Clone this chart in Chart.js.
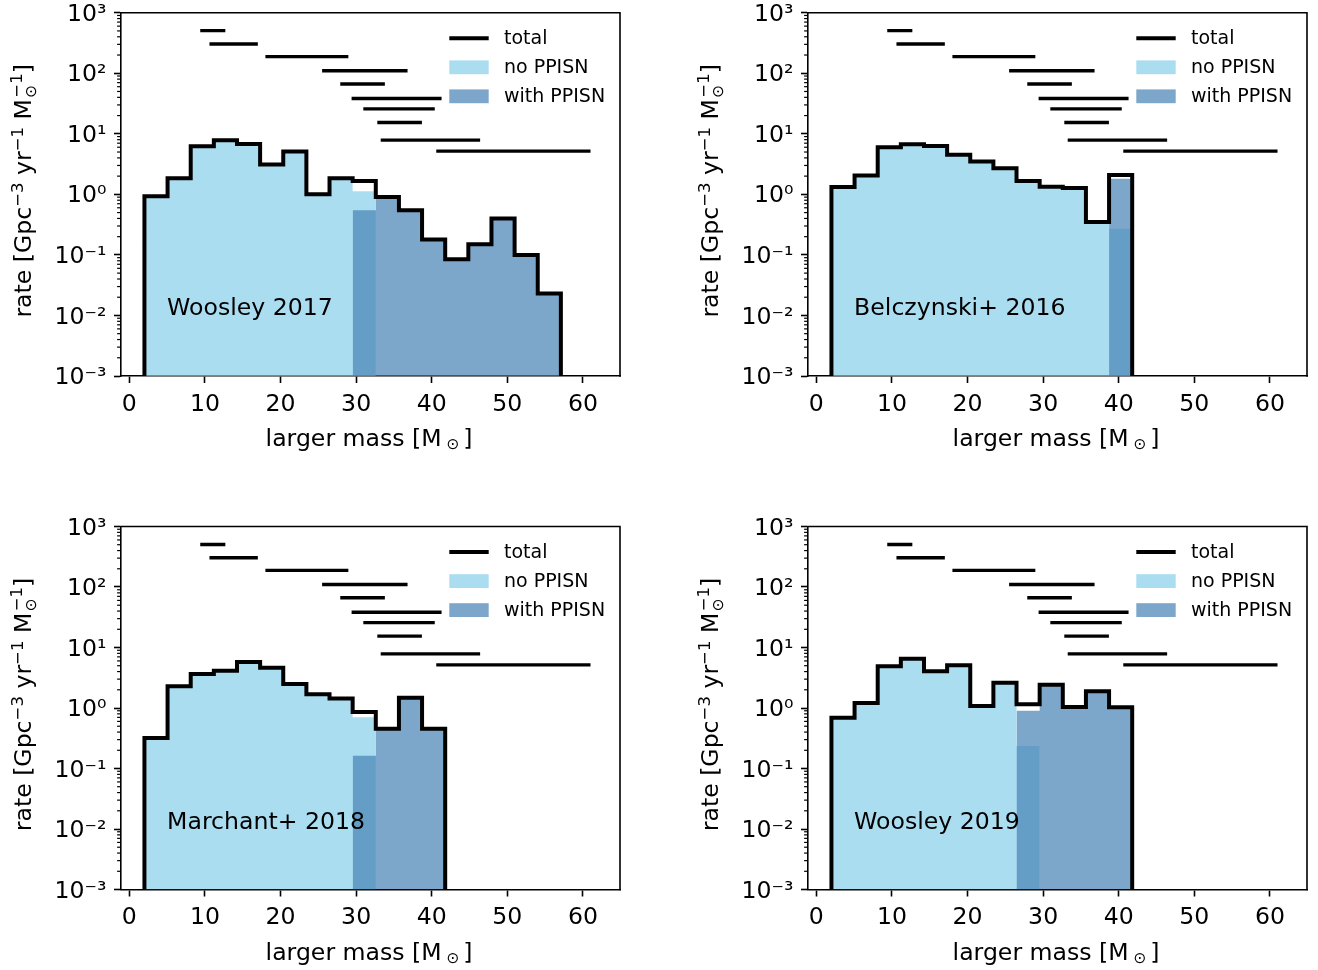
<!DOCTYPE html>
<html>
<head>
<meta charset="utf-8">
<script src="https://cdn.jsdelivr.net/npm/chart.js@4.4.1/dist/chart.umd.min.js"></script>
<style>
  html, body { margin: 0; padding: 0; background: #fff; overflow: hidden; }
  #fig { position: relative; width: 1318px; height: 970px; overflow: hidden; }
  #fig canvas { position: absolute; }
</style>
</head>
<body>
<div id="fig">
  <canvas id="p1" width="630" height="460" style="left:0px;top:0px"></canvas>
  <canvas id="p2" width="630" height="460" style="left:687px;top:0px"></canvas>
  <canvas id="p3" width="630" height="460" style="left:0px;top:514px"></canvas>
  <canvas id="p4" width="630" height="460" style="left:687px;top:514px"></canvas>
</div>
<script>
// bin edges (larger mass, M_sun), shared by every model
const binEdges = [2.00, 5.06, 8.12, 11.18, 14.24, 17.30, 20.36, 23.42, 26.48, 29.54,
                  32.60, 35.66, 38.72, 41.78, 44.84, 47.90, 50.96, 54.02, 57.08];

// Woosley 2017
const w17Total = [0.93, 1.85, 6.2, 7.8, 6.8, 3.1, 5.1, 1.0, 1.85, 1.66, 0.9, 0.545, 0.18, 0.085, 0.15, 0.40, 0.10, 0.023];
const w17No    = [0.93, 1.85, 6.2, 7.8, 6.8, 3.1, 5.1, 1.0, 1.85, 1.12, 0, 0, 0, 0, 0, 0, 0, 0];
const w17With  = [0, 0, 0, 0, 0, 0, 0, 0, 0, 0.545, 0.9, 0.545, 0.18, 0.085, 0.15, 0.40, 0.10, 0.023];

// Belczynski+ 2016
const b16Total = [1.32, 2.05, 6.0, 6.7, 6.3, 4.5, 3.5, 2.7, 1.66, 1.34, 1.27, 0.35, 2.08];
const b16No    = [1.32, 2.05, 6.0, 6.7, 6.3, 4.5, 3.5, 2.7, 1.66, 1.34, 1.27, 0.35, 0.27];
const b16With  = [0, 0, 0, 0, 0, 0, 0, 0, 0, 0, 0, 0, 1.81];

// Marchant+ 2018
const m18Total = [0.32, 2.28, 3.65, 4.14, 5.75, 4.64, 2.49, 1.68, 1.43, 0.86, 0.455, 1.48, 0.455];
const m18No    = [0.32, 2.28, 3.65, 4.14, 5.75, 4.64, 2.49, 1.68, 1.43, 0.70, 0, 0, 0];
const m18With  = [0, 0, 0, 0, 0, 0, 0, 0, 0, 0.163, 0.455, 1.48, 0.455];

// Woosley 2019
const w19Total = [0.69, 1.21, 4.9, 6.5, 4.04, 5.1, 1.08, 2.62, 1.15, 2.43, 1.04, 1.89, 1.03];
const w19No    = [0.69, 1.21, 4.9, 6.5, 4.04, 5.1, 1.08, 2.62, 0.235, 0, 0, 0, 0];
const w19With  = [0, 0, 0, 0, 0, 0, 0, 0, 0.90, 2.43, 1.04, 1.89, 1.03];

// observed events: 90% range of the larger mass, drawn at a fixed height each
const eventLo = [9.38, 10.6, 18.0, 25.5, 27.9, 29.4, 30.95, 32.8, 33.25, 40.6];
const eventHi = [12.7, 17.0, 28.97, 36.8, 33.8, 41.3, 40.4, 38.7, 46.4, 61.0];
const eventY  = [505, 304, 188, 110, 66.6, 38.2, 25.8, 15.4, 7.85, 5.17];

const xTicks = [0, 10, 20, 30, 40, 50, 60];
const yTicks = [1e-3, 1e-2, 1e-1, 1, 10, 100, 1000];
const yTickLabels = ['10⁻³', '10⁻²', '10⁻¹', '10⁰', '10¹', '10²', '10³'];
const legendLabels = ['total', 'no PPISN', 'with PPISN'];

const colNo = 'rgba(135, 206, 235, 0.7)';
const colWith = 'rgba(70, 130, 180, 0.7)';
const FONT = '"DejaVu Sans"';
const BIG = 23.6;    // ticks, axis labels, model name
const SMALL = 19.0;  // legend

const panels = [
  {id: 'p1', name: 'Woosley 2017', total: w17Total, no: w17No, with: w17With, top: 12.7, xh: 84},
  {id: 'p2', name: 'Belczynski+ 2016', total: b16Total, no: b16No, with: b16With, top: 12.7, xh: 84},
  {id: 'p3', name: 'Marchant+ 2018', total: m18Total, no: m18No, with: m18With, top: 12.5, xh: 84.5},
  {id: 'p4', name: 'Woosley 2019', total: w19Total, no: w19No, with: w19With, top: 12.5, xh: 84.5}
];

// step points for the non-empty bins of a histogram
function steps(values) {
  const pts = [];
  let last = -1;
  values.forEach((v, i) => {
    if (v > 0) { pts.push({x: binEdges[i], y: v}); last = i; }
  });
  pts.push({x: binEdges[last + 1], y: values[last]});
  return pts;
}

// step outline that drops to the axis floor on both ends
function outline(values) {
  const pts = steps(values);
  pts.unshift({x: pts[0].x, y: 1e-3});
  pts.push({x: pts[pts.length - 1].x, y: 1e-3});
  return pts;
}

// text with super/subscripts, centred along its baseline
function richText(ctx, parts, px, py, size, vertical) {
  ctx.save();
  ctx.translate(px, py);
  if (vertical) ctx.rotate(-Math.PI / 2);
  ctx.fillStyle = '#000';
  ctx.textAlign = 'left';
  ctx.textBaseline = 'alphabetic';
  const advs = parts.map(p => {
    ctx.font = `${size * (p.s || 1)}px ${FONT}`;
    const w = p.adv !== undefined ? p.adv * size : ctx.measureText(p.t).width;
    return (p.gap || 0) * size + w + (p.after || 0) * size;
  });
  let pos = -advs.reduce((a, b) => a + b, 0) / 2;
  parts.forEach((p, i) => {
    ctx.font = `${size * (p.s || 1)}px ${FONT}`;
    ctx.fillText(p.t, pos + (p.gap || 0) * size, (p.dy || 0) * size);
    pos += advs[i];
  });
  ctx.restore();
}

const yTitle = [
  {t: 'rate [Gpc'}, {t: '−3', s: 0.7, dy: -0.33}, {t: ' yr'}, {t: '−1', s: 0.7, dy: -0.33},
  {t: ' M'}, {t: '⊙', s: 0.66, dy: 0.2, adv: 0, gap: 0.06}, {t: '−1', s: 0.7, dy: -0.36}, {t: ']'}
];
const xTitle = [
  {t: 'larger mass [M'}, {t: '⊙', s: 0.66, dy: 0.13, gap: 0.2, after: 0.16}, {t: ']'}
];

// scales keep their fixed size, without room for overhanging labels
function fixScale(s, size) {
  if (s.isHorizontal()) s.height = size; else s.width = size;
  s.paddingTop = 0;
  s.paddingBottom = 0;
  s.paddingLeft = 0;
  s.paddingRight = 0;
}

function decorFor(panel) {
  return {
    id: 'decor',
    afterDraw(chart) {
      const {ctx, chartArea: a, scales: {x, y}} = chart;
      ctx.save();
      // top and right spines
      ctx.strokeStyle = '#000';
      ctx.lineWidth = 1.6;
      ctx.lineCap = 'square';
      ctx.beginPath();
      ctx.moveTo(a.left, a.top);
      ctx.lineTo(a.right, a.top);
      ctx.lineTo(a.right, a.bottom);
      ctx.stroke();
      // minor ticks of the log axis
      ctx.lineWidth = 1.2;
      ctx.lineCap = 'butt';
      for (let k = -3; k < 3; k++) {
        for (let m = 2; m < 10; m++) {
          const py = y.getPixelForValue(m * Math.pow(10, k));
          ctx.beginPath();
          ctx.moveTo(a.left, py);
          ctx.lineTo(a.left - 3.9, py);
          ctx.stroke();
        }
      }
      // legend
      const hx0 = a.right - 170.7, hw = 39.4, tx = a.right - 116;
      const rows = [25.6, 54.6, 83.6].map(d => a.top + d);
      ctx.lineWidth = 4;
      ctx.beginPath();
      ctx.moveTo(hx0, rows[0]);
      ctx.lineTo(hx0 + hw, rows[0]);
      ctx.stroke();
      ctx.fillStyle = colNo;
      ctx.fillRect(hx0, rows[1] - 6.9, hw, 13.8);
      ctx.fillStyle = colWith;
      ctx.fillRect(hx0, rows[2] - 6.9, hw, 13.8);
      ctx.fillStyle = '#000';
      ctx.font = `${SMALL}px ${FONT}`;
      ctx.textBaseline = 'middle';
      ctx.textAlign = 'left';
      legendLabels.forEach((lab, i) => ctx.fillText(lab, tx, rows[i] + 0.5));
      // model name
      ctx.font = `${BIG}px ${FONT}`;
      ctx.textBaseline = 'alphabetic';
      ctx.fillText(panel.name, x.getPixelForValue(5), y.getPixelForValue(0.01));
      ctx.restore();
      // axis titles
      richText(ctx, xTitle, (a.left + a.right) / 2 - 1.5, a.bottom + 70.2, BIG, false);
      richText(ctx, yTitle, a.left - 90.1, (a.top + a.bottom) / 2 - 3.5, BIG, true);
    }
  };
}

function makePanel(panel) {
  const datasets = [];
  datasets.push({
    label: 'total', data: outline(panel.total), stepped: true,
    borderColor: '#000', borderWidth: 4, fill: false, order: 0
  });
  eventLo.forEach((lo, i) => {
    datasets.push({
      label: 'event ' + i, data: [{x: lo, y: eventY[i]}, {x: eventHi[i], y: eventY[i]}],
      borderColor: '#000', borderWidth: 3.4, borderCapStyle: 'butt', fill: false, order: 0
    });
  });
  datasets.push({
    label: 'with PPISN', data: steps(panel.with), stepped: true,
    borderColor: 'transparent', borderWidth: 0, backgroundColor: colWith, fill: 'start', order: 1
  });
  datasets.push({
    label: 'no PPISN', data: steps(panel.no), stepped: true,
    borderColor: 'transparent', borderWidth: 0, backgroundColor: colNo, fill: 'start', order: 2
  });

  new Chart(document.getElementById(panel.id), {
    type: 'line',
    data: {datasets: datasets},
    options: {
      responsive: false,
      animation: false,
      devicePixelRatio: 1,
      layout: {padding: {top: panel.top, right: 10, left: 0, bottom: 0}},
      elements: {point: {radius: 0}, line: {tension: 0}},
      datasets: {line: {clip: 0}},
      plugins: {legend: {display: false}, tooltip: {enabled: false}},
      scales: {
        x: {
          type: 'linear', min: -1.1, max: 64.9, z: 1,
          afterBuildTicks: s => { s.ticks = xTicks.map(v => ({value: v})); },
          afterFit: s => fixScale(s, panel.xh),
          ticks: {
            autoSkip: false, maxRotation: 0, padding: 7.4, color: '#000',
            font: {family: 'DejaVu Sans', size: BIG},
            callback: v => String(v)
          },
          grid: {drawOnChartArea: false, tickLength: 7, tickWidth: 1.6, tickColor: '#000'},
          border: {display: true, color: '#000', width: 1.6}
        },
        y: {
          type: 'logarithmic', min: 1e-3, max: 1e3, z: 1,
          afterBuildTicks: s => { s.ticks = yTicks.map(v => ({value: v})); },
          afterFit: s => fixScale(s, 121),
          ticks: {
            autoSkip: false, padding: 7.5, labelOffset: 2, color: '#000',
            font: {family: 'DejaVu Sans', size: BIG},
            callback: (v, i) => yTickLabels[i]
          },
          grid: {drawOnChartArea: false, tickLength: 7, tickWidth: 1.6, tickColor: '#000'},
          border: {display: true, color: '#000', width: 1.6}
        }
      }
    },
    plugins: [decorFor(panel)]
  });
}

panels.forEach(makePanel);
</script>
</body>
</html>
